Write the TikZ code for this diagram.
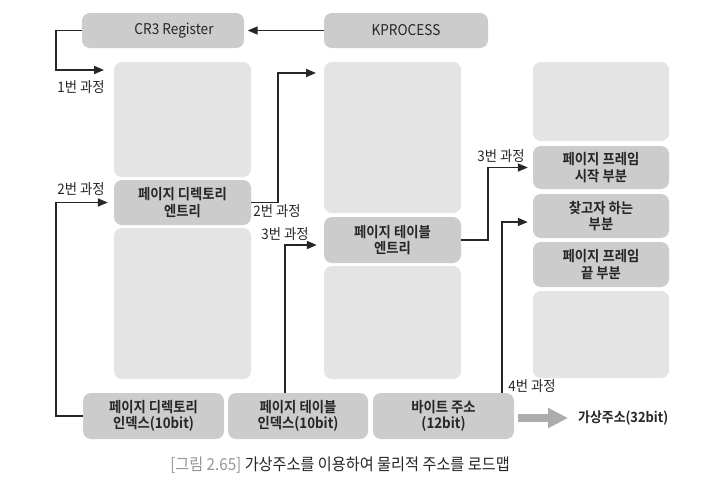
\documentclass[tikz,border=0pt]{standalone}
\usepackage{fontspec}
\setmainfont{Noto Sans CJK KR}[BoldFont={Noto Sans CJK KR Bold}, FakeStretch=0.92]
\usetikzlibrary{arrows.meta}
\definecolor{boxdark}{RGB}{204,204,204}
\definecolor{boxlight}{RGB}{228,228,228}
\definecolor{ink}{RGB}{38,38,38}
\definecolor{capgray}{RGB}{150,150,150}
\definecolor{arrowgray}{RGB}{172,172,172}

\tikzset{
  sz/.style 2 args={minimum width=#1pt, minimum height=#2pt, inner sep=0pt},
  entry/.style={fill=boxdark, rounded corners=8pt, align=center, text=ink,
    font=\fontsize{14.5}{16.5}\selectfont\bfseries},
  reg/.style={entry, font=\fontsize{14.8}{16}\selectfont},
  blank/.style={fill=boxlight, rounded corners=8pt},
  proc/.style={text=ink, inner sep=0pt, font=\fontsize{14.5}{16}\selectfont},
  arrow/.style={-{Triangle[length=10pt,width=8pt]}, line width=1.7pt, draw=ink}}

\begin{document}
\begin{tikzpicture}[x=1pt,y=-1pt]
    \useasboundingbox[fill=white] (0,0) rectangle (723,488);
    \node[reg, sz={162}{35}] (cr3) at (163,30.5) {\hspace*{22pt}CR3 Register};
    \node[reg, sz={164}{35}] (kproc) at (406,30.5) {KPROCESS};
    \node[blank, sz={137}{115}] (pdtop) at (182.5,119.5) {};
    \node[entry, sz={137}{45}] (pde) at (182.5,202.5) {페이지 디렉토리\\엔트리};
    \node[blank, sz={137}{151}] (pdbot) at (182.5,303.5) {};
    \node[blank, sz={137}{151}] (pttop) at (392.5,137.5) {};
    \node[entry, sz={137}{46}] (pte) at (392.5,240) {페이지 테이블\\엔트리};
    \node[blank, sz={137}{113}] (ptbot) at (392.5,322.5) {};
    \node[blank, sz={136}{79}] (pftop) at (601,101.5) {};
    \node[entry, sz={136}{43}] (pfs) at (601,167.5) {페이지 프레임\\시작 부분};
    \node[entry, sz={136}{44}] (pft) at (601,216) {찾고자 하는\\부분};
    \node[entry, sz={136}{45}] (pfe) at (601,264.5) {페이지 프레임\\끝 부분};
    \node[blank, sz={136}{87}] (pfbot) at (601,334.5) {};
    \node[entry, sz={141}{46}] (pdi) at (153.5,416) {페이지 디렉토리\\인덱스(10bit)};
    \node[entry, sz={140}{46}] (pti) at (298,416) {페이지 테이블\\인덱스(10bit)};
    \node[entry, sz={141}{46}] (byte) at (443.5,416) {바이트 주소\\(12bit)};
    \node[proc, anchor=west, font=\fontsize{14}{16}\selectfont\bfseries] (va) at (578,418) {가상주소(32bit)};
    \coordinate (t1) at (104,70);
    \coordinate (t2) at (316,73);
    \draw[arrow] (kproc.west) -- ([xshift=3.5pt]cr3.east);
    \draw[arrow] (cr3.west) -- ++(-26,0) |- (t1);
    \draw[arrow] (pde.east) -- ++(27,0) |- (t2);
    \draw[arrow] (pdi.west) -- ++(-27,0) |- ([xshift=-6pt]pde.west);
    \draw[arrow] ([xshift=-13pt]pti.north) |- ([shift={(-7,5)}]pte.west);
    \draw[arrow] (pte.east) -- ++(27,0) |- ([xshift=-5pt]pfs.west);
    \draw[arrow] ([xshift=58.5pt]byte.north) |- ([shift={(-5,6)}]pft.west);
    \draw[-{Triangle[length=20pt,width=19pt]}, line width=8pt, arrowgray,
      shorten <=4pt, shorten >=10pt] (byte.east |- va.west) -- (va.west);
    \node[proc] (l1) at (81,87) {1번 과정};
    \node[proc] (l2a) at (81,189) {2번 과정};
    \node[proc] (l2b) at (277,211) {2번 과정};
    \node[proc] (l3a) at (285,234) {3번 과정};
    \node[proc] (l3b) at (501,156) {3번 과정};
    \node[proc] (l4) at (532,386) {4번 과정};
    \node[text=ink, font=\fontsize{16.5}{18}\selectfont] (cap) at (340,465)
      {\textcolor{capgray}{[그림 2.65]} 가상주소를 이용하여 물리적 주소를 로드맵};
\end{tikzpicture}
\end{document}
